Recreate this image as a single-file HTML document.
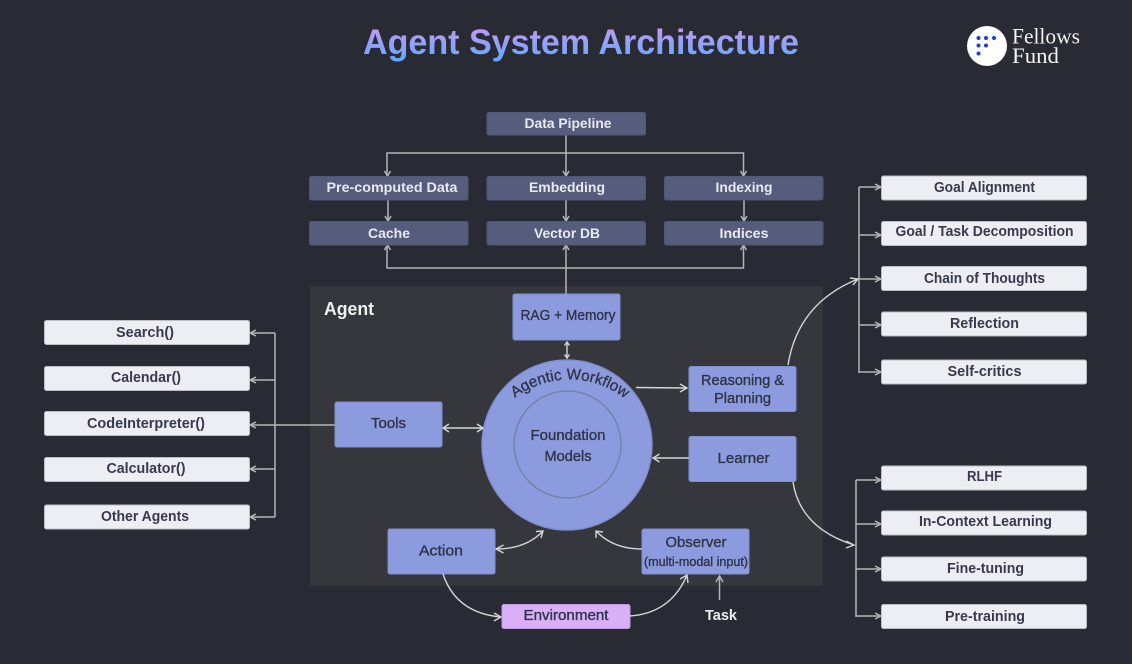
<!DOCTYPE html>
<html><head><meta charset="utf-8">
<style>
html,body{margin:0;padding:0;background:#282b33;width:1132px;height:664px;overflow:hidden}
svg{display:block}
text{font-family:"Liberation Sans",sans-serif}
.l{fill:none;stroke:#b4b5b3;stroke-width:1.5}
.c{fill:none;stroke:#d4d5d3;stroke-width:1.4}
.a{fill:none;stroke:#b4b5b3;stroke-width:1.5}
.d{fill:#555c7c;stroke:#50577a}
.w{fill:#eceef4;stroke:#bcbec5}
.b{fill:#8b9bdd;stroke:#7f8fd0}
.t{fill:#e9eaf0;font-size:14px;font-weight:bold;text-anchor:middle}
.k{fill:#363a4c;font-size:14.5px;font-weight:bold;text-anchor:middle}
.n{fill:#2f3349;font-size:14.5px;text-anchor:middle;stroke:#2f3349;stroke-width:.35}
</style></head><body>
<svg width="1132" height="664" viewBox="0 0 1132 664" xmlns="http://www.w3.org/2000/svg">
<defs>
<linearGradient id="g" gradientUnits="userSpaceOnUse" x1="0" y1="27" x2="0" y2="61"><stop offset="0" stop-color="#c59af2"/><stop offset="1" stop-color="#5fa9ff"/></linearGradient>
</defs>
<rect width="1132" height="664" fill="#282b33"/>
<text x="363" y="54" font-size="35" font-weight="bold" fill="url(#g)" textLength="436" lengthAdjust="spacingAndGlyphs">Agent System Architecture</text>

<circle cx="987" cy="46" r="20" fill="#fff"/>
<g fill="#1f3fd0"><circle cx="978.500" cy="38" r="2"/><circle cx="986" cy="38" r="2"/><circle cx="994" cy="38" r="2"/><circle cx="978.500" cy="45.500" r="2"/><circle cx="986" cy="45.500" r="2"/><circle cx="978.500" cy="53.500" r="2"/></g>
<text x="1012" y="43.500" font-size="22" fill="#f2f2f2" style="font-family:'Liberation Serif',serif" textLength="68" lengthAdjust="spacingAndGlyphs">Fellows</text>
<text x="1012" y="63" font-size="22" fill="#f2f2f2" style="font-family:'Liberation Serif',serif" textLength="47" lengthAdjust="spacingAndGlyphs">Fund</text>

<rect x="310" y="286" width="513" height="300" rx="2" fill="#36373c"/>
<text x="324" y="315" font-size="18" font-weight="bold" fill="#f0f0f0" textLength="50" lengthAdjust="spacingAndGlyphs">Agent</text>

<!-- pipeline connectors -->
<path class="l" d="M566 135V176M387 176V153H743.500V176M388 200V221M566 200V221M744 200V221M566 294V245M387 245V268H743.500V245"/>
<path class="a" d="M384.500 171L387.500 176L390.500 171M563 171L566 176L569 171M740.500 171L743.500 176L746.500 171M385 216L388 221L391 216M563 216L566 221L569 216M741 216L744 221L747 216M384.500 250L387.500 245L390.500 250M563 250L566 245L569 250M740.500 250L743.500 245L746.500 250"/>

<g>
<rect class="d" x="487" y="112.500" width="158.500" height="22.500" rx="2"/>
<rect class="d" x="309.500" y="176.500" width="158.500" height="23.500" rx="2"/>
<rect class="d" x="487" y="176.500" width="158.500" height="23.500" rx="2"/>
<rect class="d" x="664.500" y="176.500" width="158.500" height="23.500" rx="2"/>
<rect class="d" x="309.500" y="221.500" width="158.500" height="23.500" rx="2"/>
<rect class="d" x="487" y="221.500" width="158.500" height="23.500" rx="2"/>
<rect class="d" x="664.500" y="221.500" width="158.500" height="23.500" rx="2"/>
</g>
<text class="t" x="568" y="128" textLength="87" lengthAdjust="spacingAndGlyphs">Data Pipeline</text>
<text class="t" x="392" y="192" textLength="131" lengthAdjust="spacingAndGlyphs">Pre-computed Data</text>
<text class="t" x="567" y="192" textLength="76" lengthAdjust="spacingAndGlyphs">Embedding</text>
<text class="t" x="744" y="192" textLength="57" lengthAdjust="spacingAndGlyphs">Indexing</text>
<text class="t" x="389" y="238" textLength="42" lengthAdjust="spacingAndGlyphs">Cache</text>
<text class="t" x="567" y="238" textLength="66" lengthAdjust="spacingAndGlyphs">Vector DB</text>
<text class="t" x="744" y="238" textLength="49" lengthAdjust="spacingAndGlyphs">Indices</text>

<!-- left connectors -->
<path class="l" d="M335 425H250M275 333V517M250 333H275M250 380H275M250 469H275M250 517H275"/>
<path class="a" d="M256 330L250 333L256 336M256 377L250 380L256 383M256 422L250 425L256 428M256 466L250 469L256 472M256 514L250 517L256 520"/>
<g>
<rect class="w" x="44.500" y="320.500" width="205" height="24" rx="2"/>
<rect class="w" x="44.500" y="366.500" width="205" height="24" rx="2"/>
<rect class="w" x="44.500" y="411.500" width="205" height="24" rx="2"/>
<rect class="w" x="44.500" y="457.500" width="205" height="24" rx="2"/>
<rect class="w" x="44.500" y="505" width="205" height="24" rx="2"/>
</g>
<text class="k" x="145" y="337" textLength="58" lengthAdjust="spacingAndGlyphs">Search()</text>
<text class="k" x="146" y="382" textLength="70" lengthAdjust="spacingAndGlyphs">Calendar()</text>
<text class="k" x="146" y="428" textLength="118" lengthAdjust="spacingAndGlyphs">CodeInterpreter()</text>
<text class="k" x="146" y="473" textLength="79" lengthAdjust="spacingAndGlyphs">Calculator()</text>
<text class="k" x="145" y="521" textLength="88" lengthAdjust="spacingAndGlyphs">Other Agents</text>

<!-- right connectors -->
<path class="l" d="M859 187V373M859 187H881M859 235H881M859 279H881M859 325H881M859 372H881M856 480V617M856 480H881M856 524H881M856 569H881M856 616H881"/>
<path class="a" d="M875 184L881 187L875 190M875 232L881 235L875 238M875 276L881 279L875 282M875 322L881 325L875 328M875 369L881 372L875 375M875 477L881 480L875 483M875 521L881 524L875 527M875 566L881 569L875 572M875 613L881 616L875 619"/>
<g>
<rect class="w" x="881.500" y="176" width="205" height="24" rx="2"/>
<rect class="w" x="881.500" y="221.500" width="205" height="24" rx="2"/>
<rect class="w" x="881.500" y="266.500" width="205" height="24" rx="2"/>
<rect class="w" x="881.500" y="312" width="205" height="24" rx="2"/>
<rect class="w" x="881.500" y="360" width="205" height="24" rx="2"/>
<rect class="w" x="881.500" y="466" width="205" height="24" rx="2"/>
<rect class="w" x="881.500" y="511" width="205" height="24" rx="2"/>
<rect class="w" x="881.500" y="557" width="205" height="24" rx="2"/>
<rect class="w" x="881.500" y="604.500" width="205" height="24" rx="2"/>
</g>
<text class="k" x="984.500" y="192" textLength="101" lengthAdjust="spacingAndGlyphs">Goal Alignment</text>
<text class="k" x="984.500" y="236" textLength="178" lengthAdjust="spacingAndGlyphs">Goal / Task Decomposition</text>
<text class="k" x="984.500" y="283" textLength="121" lengthAdjust="spacingAndGlyphs">Chain of Thoughts</text>
<text class="k" x="984.500" y="328" textLength="69" lengthAdjust="spacingAndGlyphs">Reflection</text>
<text class="k" x="984.500" y="376" textLength="74" lengthAdjust="spacingAndGlyphs">Self-critics</text>
<text class="k" x="984.500" y="481" textLength="35" lengthAdjust="spacingAndGlyphs">RLHF</text>
<text class="k" x="985.500" y="526" textLength="133" lengthAdjust="spacingAndGlyphs">In-Context Learning</text>
<text class="k" x="985.500" y="573" textLength="77" lengthAdjust="spacingAndGlyphs">Fine-tuning</text>
<text class="k" x="985" y="621" textLength="80" lengthAdjust="spacingAndGlyphs">Pre-training</text>

<!-- center circle -->
<circle cx="567" cy="445" r="85" fill="#8b9bdd" stroke="#7f8fd0" stroke-width="1.5"/>
<circle cx="567.500" cy="444.500" r="53.500" fill="none" stroke="#767c9c" stroke-width="1.2"/>
<path id="arc" d="M515 398A90 90 0 0 1 628 401" fill="none"/>
<text font-size="15.500" fill="#2f3349" stroke="#2f3349" stroke-width=".3"><textPath href="#arc" textLength="118" lengthAdjust="spacingAndGlyphs">Agentic Workflow</textPath></text>
<text class="n" x="568" y="440" textLength="75" lengthAdjust="spacingAndGlyphs">Foundation</text>
<text class="n" x="568" y="461" textLength="47" lengthAdjust="spacingAndGlyphs">Models</text>

<!-- blue boxes -->
<rect class="b" x="513" y="294" width="107" height="46" rx="2"/>
<rect class="b" x="335" y="402" width="107" height="45" rx="2"/>
<rect class="b" x="689" y="366.500" width="107" height="45" rx="2"/>
<rect class="b" x="689" y="436.500" width="107" height="45" rx="2"/>
<rect class="b" x="388" y="529" width="107" height="45" rx="2"/>
<rect class="b" x="642" y="529" width="107" height="45" rx="2"/>
<rect x="502" y="604.500" width="128" height="24" rx="2" fill="#d9aff8" stroke="#c39ce0"/>
<text class="n" x="568" y="320" textLength="95" lengthAdjust="spacingAndGlyphs">RAG + Memory</text>
<text class="n" x="388.500" y="428" textLength="35" lengthAdjust="spacingAndGlyphs">Tools</text>
<text class="n" x="742.500" y="385" textLength="83" lengthAdjust="spacingAndGlyphs">Reasoning &amp;</text>
<text class="n" x="742.500" y="403" textLength="57" lengthAdjust="spacingAndGlyphs">Planning</text>
<text class="n" x="743.500" y="463" textLength="52" lengthAdjust="spacingAndGlyphs">Learner</text>
<text class="n" x="441" y="555.500" textLength="44" lengthAdjust="spacingAndGlyphs">Action</text>
<text class="n" x="696" y="547" textLength="61" lengthAdjust="spacingAndGlyphs">Observer</text>
<text class="n" x="696" y="566" style="font-size:12.500px" textLength="104" lengthAdjust="spacingAndGlyphs">(multi-modal input)</text>
<text class="n" x="566" y="620" textLength="85" lengthAdjust="spacingAndGlyphs">Environment</text>
<text x="721" y="620" font-size="15" font-weight="bold" fill="#eeeeee" text-anchor="middle" textLength="32" lengthAdjust="spacingAndGlyphs">Task</text>

<!-- curved + inner arrows -->
<path class="c" d="M567 342V358M564.500 345.500L567 342L569.500 345.500M564.500 354.500L567 358L569.500 354.500"/>
<path class="c" d="M443 428H483M449 424L443 428L449 432M477 424L483 428L477 432"/>
<path class="c" d="M636 387.500L687 388M680 384L687 388L680 392"/>
<path class="c" d="M689 458H653M659.500 454L653 458L659.500 462"/>
<path class="c" d="M496 549Q526 549 543 531M503.500 545L496 549L503.500 553M536 531.500L543 531L541 538"/>
<path class="c" d="M642 549Q613 549 596 531M596 538L596 531L603 532"/>
<path class="c" d="M788 365Q798 303 858 279M850 278L858 279L853 285"/>
<path class="c" d="M793 482Q800 528 854 545M846 541L854 545L846 548"/>
<path class="c" d="M443 574Q456 613 501 617M494 613L501 617L494 621"/>
<path class="c" d="M630 616Q671 613 687 575M680 579L687 575L688 583"/>
<path class="l" d="M719.500 600V576M716 582L719.500 576L723 582"/>
</svg>
</body></html>
